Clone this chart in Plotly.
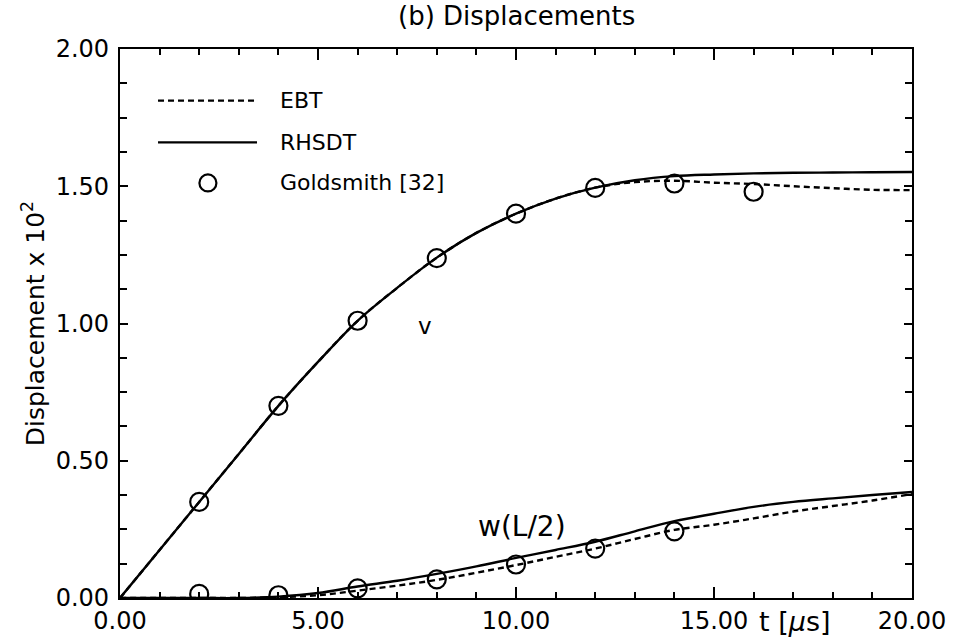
import plotly.graph_objects as go

# time grid (microseconds)
t_curve = [0, 1, 2, 3, 4, 5, 6, 7, 8, 9, 10, 11, 12, 13, 14, 15, 16, 17, 18, 19, 20]

# v displacement (x 10^2)
v_rhsdt = [0.0, 0.175, 0.35, 0.525, 0.70, 0.86, 1.01, 1.13, 1.24, 1.33, 1.40, 1.455, 1.495,
           1.522, 1.537, 1.543, 1.547, 1.549, 1.550, 1.551, 1.552]
v_ebt = [0.0, 0.175, 0.35, 0.525, 0.70, 0.86, 1.01, 1.13, 1.24, 1.33, 1.40, 1.455, 1.495,
         1.515, 1.52, 1.513, 1.508, 1.50, 1.493, 1.487, 1.486]

# w(L/2) displacement (x 10^2)
w_rhsdt = [0.0, 0.0, 0.0, 0.0, 0.005, 0.018, 0.042, 0.063, 0.088, 0.115, 0.146, 0.175, 0.205,
           0.243, 0.28, 0.307, 0.332, 0.35, 0.363, 0.375, 0.386]
w_ebt = [0.0, 0.0, 0.0, 0.0, 0.003, 0.01, 0.027, 0.045, 0.066, 0.092, 0.12, 0.15, 0.18,
         0.215, 0.248, 0.267, 0.29, 0.315, 0.335, 0.355, 0.379]

# Goldsmith [32] experimental points
t_gold_v = [2, 4, 6, 8, 10, 12, 14, 16]
v_gold = [0.35, 0.70, 1.01, 1.238, 1.40, 1.494, 1.51, 1.48]
t_gold_w = [2, 4, 6, 8, 10, 12, 14]
w_gold = [0.015, 0.01, 0.035, 0.068, 0.122, 0.18, 0.243]

x_ticks = [0, 5, 10, 15, 20]
x_ticklabels = ["0.00", "5.00", "10.00", "15.00", "20.00"]
y_ticks = [0, 0.5, 1.0, 1.5, 2.0]
y_ticklabels = ["0.00", "0.50", "1.00", "1.50", "2.00"]

FONT = "DejaVu Sans"
LW = 2.4
DASH = "6px,4px"

fig = go.Figure()
for y in (v_ebt, w_ebt):
    fig.add_trace(go.Scatter(x=t_curve, y=y, mode="lines", line_shape="spline",
                             line=dict(color="black", width=LW, dash=DASH), showlegend=False))
for y in (v_rhsdt, w_rhsdt):
    fig.add_trace(go.Scatter(x=t_curve, y=y, mode="lines", line_shape="spline",
                             line=dict(color="black", width=LW), showlegend=False))
for tx, y in ((t_gold_v, v_gold), (t_gold_w, w_gold)):
    fig.add_trace(go.Scatter(x=tx, y=y, mode="markers",
                             marker=dict(symbol="circle-open", size=18, color="black",
                                         line=dict(width=2.2, color="black")),
                             showlegend=False))

axis_common = dict(showline=True, linecolor="black", linewidth=2.2, mirror="allticks",
                   ticks="inside", tickcolor="black", tickwidth=2, showgrid=False,
                   zeroline=False, automargin=False,
                   tickfont=dict(family=FONT, size=24, color="black"))

fig.update_xaxes(range=[0, 20], tickvals=x_ticks, ticktext=x_ticklabels, ticklen=11,
                 minor=dict(dtick=1, tick0=0, ticklen=6, ticks="inside", tickcolor="black",
                            tickwidth=2), **axis_common)
fig.update_yaxes(range=[0, 2], tickvals=y_ticks, ticktext=y_ticklabels, ticklen=8,
                 ticklabelstandoff=4,
                 minor=dict(dtick=0.125, tick0=0, ticklen=7, ticks="inside", tickcolor="black",
                            tickwidth=2),
                 title=dict(text="Displacement x 10<sup>2</sup>",
                            font=dict(family=FONT, size=25, color="black"), standoff=4),
                 **axis_common)

annotations = [
    dict(text="(b) Displacements", xref="paper", yref="paper", x=0.5, y=1.0, yshift=33,
         showarrow=False, font=dict(family=FONT, size=26, color="black"), xanchor="center",
         yanchor="middle"),
    dict(text="t [<i>μ</i>s]", xref="x", yref="paper", x=17.05, y=0, yshift=-23,
         showarrow=False, font=dict(family=FONT, size=27, color="black"), yanchor="middle"),
    dict(text="v", xref="x", yref="y", x=7.7, y=0.99, showarrow=False,
         font=dict(family=FONT, size=23, color="black"), yanchor="middle"),
    dict(text="w(L/2)", xref="x", yref="y", x=10.15, y=0.26, showarrow=False,
         font=dict(family=FONT, size=28, color="black"), yanchor="middle"),
]
# manual legend (in axis-domain coordinates)
legend_rows = [("EBT", 0.906), ("RHSDT", 0.83), ("Goldsmith [32]", 0.756)]
for name, yy in legend_rows:
    annotations.append(dict(text=name, xref="x domain", yref="y domain", x=0.199, y=yy,
                            xanchor="left", yanchor="middle", showarrow=False,
                            font=dict(family=FONT, size=22, color="black")))

shapes = [
    dict(type="line", xref="x domain", yref="y domain", x0=0.048, x1=0.173, y0=0.906, y1=0.906,
         line=dict(color="black", width=LW, dash=DASH)),
    dict(type="line", xref="x domain", yref="y domain", x0=0.048, x1=0.173, y0=0.83, y1=0.83,
         line=dict(color="black", width=LW)),
    dict(type="circle", xref="x domain", yref="y domain", xsizemode="pixel", ysizemode="pixel",
         xanchor=0.111, yanchor=0.756, x0=-8.5, x1=8.5, y0=-8.5, y1=8.5,
         line=dict(color="black", width=2.2)),
]

fig.update_layout(width=954, height=643, margin=dict(l=120, r=42, t=49, b=45),
                  paper_bgcolor="white", plot_bgcolor="white",
                  annotations=annotations, shapes=shapes, showlegend=False)

fig.write_html("out.html")
